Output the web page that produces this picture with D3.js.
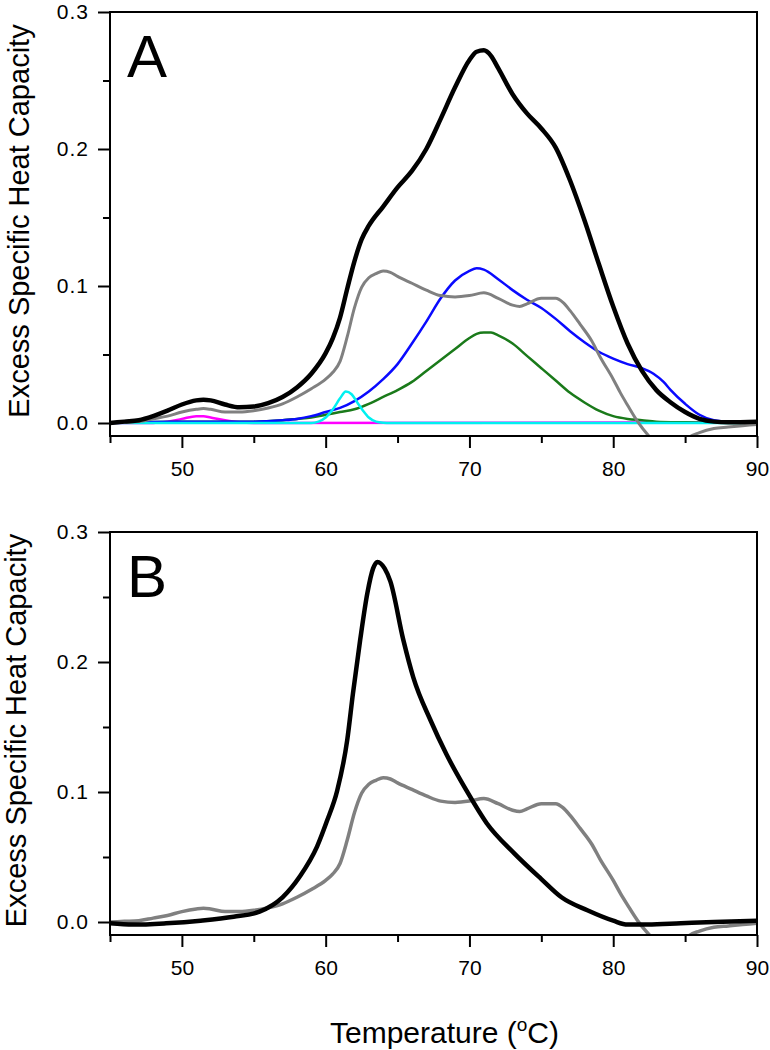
<!DOCTYPE html>
<html><head><meta charset="utf-8">
<script src="https://cdn.jsdelivr.net/npm/d3@7"></script>
<style>body{margin:0;background:#fff} text{font-family:"Liberation Sans",Arial,sans-serif}</style>
</head><body><svg id="c" width="770" height="1050"></svg>
<script>
// ---- data ----
const xMajorTicks=[50,60,70,80,90];
const xMinorTicks=[45,55,65,75,85];
const yMajorTicks=[0,0.1,0.2,0.3];
const yMinorTicks=[0.05,0.15,0.25];
const xTitle="Temperature (";
const yTitle="Excess Specific Heat Capacity";

const blackA_T=[45,46,47,48,49,50,51,51.5,52,53,54,55,56,57,58,59,60,60.5,61,61.5,62,62.5,63,64,65,66,67,68,69,70,70.5,71,71.5,72,73,74,75,76,77,78,79,80,81,82,83,84,85,86,87,88,90];
const blackA_V=[0,0.001,0.002,0.005,0.009,0.0135,0.0165,0.017,0.0165,0.0135,0.0115,0.012,0.0145,0.019,0.026,0.036,0.051,0.062,0.077,0.098,0.118,0.134,0.144,0.158,0.172,0.184,0.200,0.222,0.245,0.265,0.271,0.272,0.268,0.259,0.240,0.226,0.215,0.201,0.177,0.148,0.116,0.085,0.058,0.038,0.024,0.015,0.008,0.003,0.001,0.0005,0.001];

const gray_T=[45,46,47,48,49,50,51,51.5,52,53,54,55,56,57,58,59,60,60.5,61,61.5,62,62.5,63,63.5,64,64.5,65,66,67,68,69,70,71,72,73,73.5,74,75,76,76.5,77,77.7,78.5,79.1,80,80.5,81,81.7,82.6,83.5,84.5,85.2,86,87,88,89,90];
const gray_V=[0,0.0005,0.001,0.003,0.005,0.008,0.010,0.0105,0.010,0.008,0.008,0.009,0.011,0.014,0.019,0.025,0.032,0.037,0.045,0.063,0.084,0.099,0.106,0.109,0.111,0.110,0.107,0.102,0.097,0.093,0.092,0.093,0.095,0.091,0.086,0.085,0.087,0.091,0.091,0.088,0.082,0.072,0.060,0.048,0.032,0.022,0.013,0.001,-0.011,-0.02,-0.02,-0.011,-0.007,-0.004,-0.003,-0.002,-0.001];

const blueA_T=[45,50,55,57,58,59,60,61,62,63,64,65,66,67,68,69,70,70.5,71,72,73,74,75,76,77,78,79,80,81,82,82.8,83.5,84,85,86,87,88,90];
const blueA_V=[0.0005,0.001,0.001,0.002,0.003,0.005,0.008,0.011,0.016,0.023,0.032,0.043,0.058,0.074,0.091,0.104,0.111,0.113,0.112,0.105,0.097,0.090,0.084,0.076,0.067,0.059,0.052,0.047,0.043,0.040,0.036,0.030,0.024,0.014,0.006,0.002,0.001,0.001];

const greenA_T=[45,50,55,57,58,59,60,61,62,63,64,65,66,67,68,69,70,70.5,71,71.5,72,73,74,75,76,77,78,79,80,81,82,83,85,90];
const greenA_V=[0.0005,0.001,0.001,0.002,0.003,0.004,0.006,0.008,0.010,0.014,0.019,0.024,0.030,0.038,0.046,0.054,0.062,0.065,0.066,0.066,0.064,0.058,0.049,0.040,0.031,0.022,0.015,0.009,0.005,0.003,0.002,0.001,0.0005,0];

const cyanA_T=[45,59,59.5,60,60.5,61,61.4,61.8,62.2,62.6,63,63.5,64,64.5,90];
const cyanA_V=[0,0,0.001,0.004,0.010,0.018,0.023,0.021,0.015,0.009,0.004,0.001,0.0002,0,0];

const magentaA_T=[45,48,49,50,51,51.5,52,53,54,55,88,90];
const magentaA_V=[0,0,0.001,0.003,0.005,0.005,0.004,0.002,0.0005,0,0.0005,0.001];

const blackB_T=[45,46.6,48.9,51.3,53.6,55.4,57,58.2,59.4,60.1,60.8,61.5,61.9,62.4,62.9,63.3,63.6,64.1,64.5,65.4,66.1,67.3,68.4,69.8,71.2,73.1,75,76.4,78.2,80,81,82.4,84.7,87,90];
const blackB_V=[-0.001,-0.002,-0.001,0.001,0.004,0.008,0.019,0.035,0.058,0.078,0.101,0.140,0.176,0.217,0.253,0.272,0.277,0.272,0.262,0.217,0.188,0.155,0.129,0.101,0.076,0.053,0.033,0.019,0.009,0.001,-0.002,-0.002,-0.001,0,0.001];

// ---- drawing ----
const svg=d3.select("#c");
const x=d3.scaleLinear().domain([45,90]).range([110,757]);

function panel(top,bottom,zeroY,letter,series,titleX){
  const y=d3.scaleLinear().domain([0,0.3]).range([zeroY,top]);
  const g=svg.append("g");
  const id="clip"+letter;
  svg.append("clipPath").attr("id",id).append("rect")
    .attr("x",110).attr("y",top).attr("width",647).attr("height",bottom-top);
  const line=d3.line().x(d=>x(d[0])).y(d=>y(d[1])).curve(d3.curveMonotoneX);
  const lg=g.append("g").attr("clip-path",`url(#${id})`);
  series.forEach(s=>{
    lg.append("path").datum(d3.zip(s.T,s.V)).attr("d",line)
      .attr("fill","none").attr("stroke",s.c).attr("stroke-width",s.w)
      .attr("stroke-linejoin","round").attr("stroke-linecap","round");
  });
  const xa=g.append("g").attr("transform",`translate(0,${bottom})`)
    .call(d3.axisBottom(x).tickValues(xMajorTicks).tickSize(12).tickSizeOuter(0).tickPadding(13).tickFormat(d3.format("d")));
  const xm=g.append("g").attr("transform",`translate(0,${bottom})`)
    .call(d3.axisBottom(x).tickValues(xMinorTicks).tickSize(7).tickSizeOuter(0).tickFormat(""));
  const ya=g.append("g").attr("transform","translate(110,0)")
    .call(d3.axisLeft(y).tickValues(yMajorTicks).tickSize(12).tickSizeOuter(0).tickPadding(9).tickFormat(d3.format(".1f")));
  const ym=g.append("g").attr("transform","translate(110,0)")
    .call(d3.axisLeft(y).tickValues(yMinorTicks).tickSize(7).tickSizeOuter(0).tickFormat(""));
  [xa,xm,ya,ym].forEach(a=>{
    a.selectAll("path.domain").remove();
    a.selectAll("line").attr("stroke","#000").attr("stroke-width",2);
    a.selectAll("text").attr("font-size",21).attr("fill","#000")
      .attr("font-family","'Liberation Sans',Arial,sans-serif");
  });
  ya.selectAll("text").attr("letter-spacing","1px");
  g.append("rect").attr("x",110).attr("y",top).attr("width",647).attr("height",bottom-top)
    .attr("fill","none").attr("stroke","#000").attr("stroke-width",2);
  g.append("text").attr("x",127).attr("y",top+65).attr("font-size",60).text(letter);
  g.append("text").attr("transform",`translate(${titleX},${(top+bottom)/2 - 3}) rotate(-90)`)
    .attr("text-anchor","middle").attr("font-size",29).text(yTitle);
  return y;
}

panel(12,436,423,"A",[
  {T:magentaA_T,V:magentaA_V,c:"#ff00ff",w:2.5},
  {T:greenA_T,V:greenA_V,c:"#1a7a1a",w:2.5},
  {T:blueA_T,V:blueA_V,c:"#0a0aff",w:2.5},
  {T:cyanA_T,V:cyanA_V,c:"#00f0f0",w:2.5},
  {T:gray_T,V:gray_V,c:"#808080",w:3},
  {T:blackA_T,V:blackA_V,c:"#000",w:4.5}
],29);

panel(532,935,922,"B",[
  {T:gray_T,V:gray_V,c:"#808080",w:3.5},
  {T:blackB_T,V:blackB_V,c:"#000",w:4.5}
],26);

const t=svg.append("text").attr("x",330).attr("y",1043).attr("font-size",30);
t.append("tspan").text(xTitle);
t.append("tspan").attr("font-size",19).attr("dy",-12).text("o");
t.append("tspan").attr("dy",12).text("C)");
</script></body></html>
